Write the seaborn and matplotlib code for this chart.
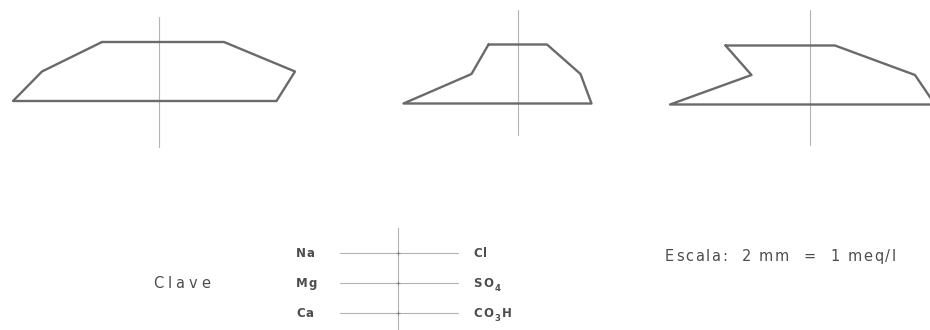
import matplotlib
matplotlib.use("Agg")
import matplotlib.pyplot as plt
import numpy as np
import pandas as pd
import seaborn as sns
from matplotlib.font_manager import FontProperties

# Ions on each side of a Stiff diagram, top row to bottom row
cation_labels = ["Na", "Mg", "Ca"]
anion_labels = ["Cl", "SO_4", "CO_3H"]

# Concentrations (meq/l) of the three water samples
samples = ["1", "2", "3"]
na = [11.4, 5.9, 16.9]
mg = [23.4, 9.3, 11.7]
ca = [29.2, 22.9, 28.0]
cl = [13.0, 5.8, 5.0]
so4 = [27.2, 12.5, 21.0]
co3h = [23.5, 14.7, 25.0]

key_title = "Clave"
scale_text = "Escala:  2 mm  =  1 meq/l"

# ---- layout (figure pixels, y grows downward) ----
PX_PER_MEQ = 5.0                      # 2 mm = 1 meq/l
diag_cx = [159, 518, 810]
diag_top = [42, 44.5, 45.5]
ROW_GAP = 29.5
axis_span = [(17, 147), (10, 135), (10, 145)]

LINE_COL = "#6a6a6a"
AXIS_COL = "#b4b4b4"
TEXT_COL = "#4d4d4d"

sns.set_style("white")
fig = plt.figure(figsize=(9.3, 3.3), dpi=100)
ax = fig.add_axes([0, 0, 1, 1])

# polygon vertices: left side top->bottom, right side bottom->top, closed
rows = []
for i, s in enumerate(samples):
    cx, top = diag_cx[i], diag_top[i]
    ys = [top, top + ROW_GAP, top + 2 * ROW_GAP]
    left = [na[i], mg[i], ca[i]]
    right = [cl[i], so4[i], co3h[i]]
    pts = [(cx - v * PX_PER_MEQ, y) for v, y in zip(left, ys)]
    pts += [(cx + v * PX_PER_MEQ, y) for v, y in zip(right[::-1], ys[::-1])]
    pts.append(pts[0])
    for k, (x, y) in enumerate(pts):
        rows.append({"sample": s, "k": k, "x": x, "y": y})
poly = pd.DataFrame(rows)

# vertical zero axes of the diagrams
for cx, (y0, y1) in zip(diag_cx, axis_span):
    ax.plot([cx, cx], [y0, y1], color=AXIS_COL, lw=0.8, zorder=1)

sns.lineplot(data=poly, x="x", y="y", units="sample", estimator=None,
             sort=False, color=LINE_COL, lw=1.7, ax=ax, zorder=3,
             clip_on=True)

# ---- key ----
key_cx = 398
key_rows = [252.7, 282.7, 312.7]
ax.plot([key_cx, key_cx], [228, 335], color=AXIS_COL, lw=0.8)
for y in key_rows:
    ax.plot([340, 458], [y, y], color=AXIS_COL, lw=0.8)
    ax.plot([key_cx], [y], marker="+", ms=3, mew=0.8, color="#8a8a8a")


def tracked_text(x, y, s, size, track, color=TEXT_COL, weight="bold"):
    """Draw text one glyph at a time with extra letter spacing.
    '_c' renders c as a subscript."""
    renderer = fig.canvas.get_renderer()
    fp = FontProperties(family="DejaVu Sans", size=size, weight=weight)
    fsub = FontProperties(family="DejaVu Sans", size=size * 0.72, weight=weight)
    toks, i = [], 0
    while i < len(s):
        if s[i] == "_" and i + 1 < len(s):
            toks.append((s[i + 1], True))
            i += 2
        else:
            toks.append((s[i], False))
            i += 1
    px = size * 100 / 72
    cur = x
    for ch, sub in toks:
        f = fsub if sub else fp
        if ch == " ":
            cur += 0.32 * px + track
            continue
        w, h, d = renderer.get_text_width_height_descent(ch, f, ismath=False)
        ax.text(cur, y + (0.3 * px if sub else 0), ch, fontproperties=f,
                color=color, va="baseline", ha="left")
        cur += w + track


for lab, y in zip(cation_labels, key_rows):
    tracked_text(296, y + 4.5, lab, 8.5, 0.3)
for lab, y in zip(anion_labels, key_rows):
    tracked_text(473, y + 4.5, lab, 8.5, 1.5)

tracked_text(153, 288, key_title, 10.5, 4.0, weight="normal")
tracked_text(665, 261, scale_text, 10.5, 1.7, weight="normal")

ax.set_xlim(0, 930)
ax.set_ylim(330, 0)
ax.axis("off")
fig.savefig("out.png", dpi=100, facecolor="white")
